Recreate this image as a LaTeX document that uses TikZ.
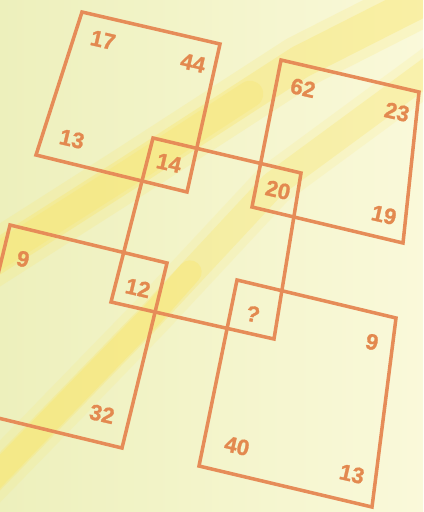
\documentclass[tikz,border=0pt]{standalone}
\usepackage{fontspec}
\setmainfont{Liberation Sans}
\newfontfamily\numfont[FakeBold=1.2]{Liberation Sans Bold}
\definecolor{paperL}{HTML}{EDF0BC}
\definecolor{paperR}{HTML}{FAF9DA}
\definecolor{bandyel}{HTML}{F9E66C}
\definecolor{lineor}{HTML}{E68C58}
\definecolor{numor}{HTML}{E3894F}

\begin{document}
\begin{tikzpicture}[x=0.03cm,y=-0.03cm,
          frame/.style={draw=lineor,line width=3pt,line join=miter},
          band/.style={draw=bandyel,line cap=round,line join=round},
          every node/.style={inner sep=0pt,text=numor,rotate=-13,
            font=\numfont\fontsize{19}{22}\selectfont}]
        \useasboundingbox (0,0) rectangle (423,512);
        \clip (0,0) rectangle (423,512);
        % paper and light stripes
        \shade[left color=paperL,right color=paperR] (0,0) rectangle (423,512);
        \draw[band,line width=1.6cm,opacity=.2] (-30,274) -- (130,172) -- (300,62) -- (450,-14);
        \draw[band,line width=1cm,opacity=.35] (-30,274) -- (130,172) -- (300,62) -- (450,-14);
        \draw[band,line width=0.8cm,opacity=.3] (-30,274) -- (130,172) -- (250,94);
        \draw[band,line width=1.3cm,opacity=.15] (-20,492) -- (150,317) -- (273,185) -- (450,55);
        \draw[band,line width=0.8cm,opacity=.3] (-20,492) -- (150,317) -- (273,185) -- (450,55);
        \draw[band,line width=0.7cm,opacity=.4] (-20,492) -- (150,317) -- (190,272);
        % corners of the five squares
        \coordinate (a1) at (82,12);   \coordinate (a2) at (220,44);
        \coordinate (a3) at (187,192); \coordinate (a4) at (36,155);
        \coordinate (b1) at (281,60);  \coordinate (b2) at (419,92);
        \coordinate (b3) at (403,243); \coordinate (b4) at (252,207);
        \coordinate (c1) at (153,138); \coordinate (c2) at (301,173);
        \coordinate (c3) at (274,339); \coordinate (c4) at (111,302);
        \coordinate (d1) at (10,225);  \coordinate (d2) at (167,263);
        \coordinate (d3) at (122,448); \coordinate (d4) at (-35,410);
        \coordinate (e1) at (237,280); \coordinate (e2) at (396,318);
        \coordinate (e3) at (372,507); \coordinate (e4) at (199,466);
        \draw[frame] (a1)--(a2)--(a3)--(a4)--cycle;
        \draw[frame] (b1)--(b2)--(b3)--(b4)--cycle;
        \draw[frame] (c1)--(c2)--(c3)--(c4)--cycle;
        \draw[frame] (d1)--(d2)--(d3)--(d4)--cycle;
        \draw[frame] (e1)--(e2)--(e3)--(e4)--cycle;
        % numbers
        \node (a17) at (103,40)  {17};
        \node (a44) at (193,63)  {44};
        \node (a13) at (72,139)  {13};
        \node (c14) at (169,163) {14};
        \node (b62) at (303,88)  {62};
        \node (b23) at (397,112) {23};
        \node (c20) at (278,190) {20};
        \node (b19) at (384,215) {19};
        \node (d9)  at (23,259)  {9};
        \node (c12) at (138,288) {12};
        \node (cq)  at (253,314) {?};
        \node (e9)  at (372,342) {9};
        \node (d32) at (102,414) {32};
        \node (e40) at (237,446) {40};
        \node (e13) at (352,474) {13};
      \end{tikzpicture}
\end{document}
